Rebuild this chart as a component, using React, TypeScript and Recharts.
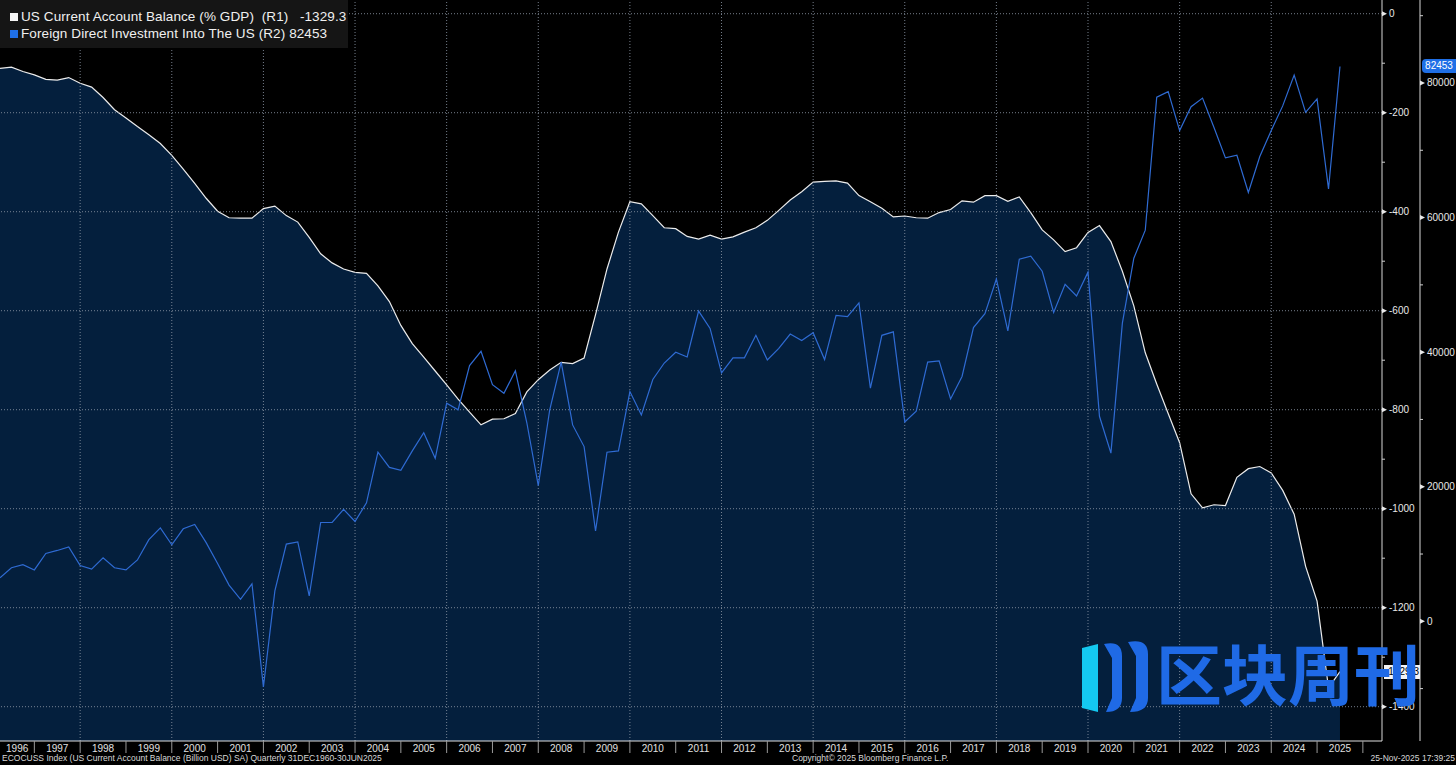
import React from "react";
import { ComposedChart, Area, Line, XAxis, YAxis, ReferenceLine } from "recharts";

// quarterly, 1996Q1 .. 2025Q2
const years = [
  1996, 1997, 1998, 1999, 2000, 2001, 2002, 2003, 2004, 2005,
  2006, 2007, 2008, 2009, 2010, 2011, 2012, 2013, 2014, 2015,
  2016, 2017, 2018, 2019, 2020, 2021, 2022, 2023, 2024, 2025,
];

// R1: US current account balance (billion USD)
const currentAccount = [
  -110.5, -107.9, -116.7, -123.7, -132.5, -134.2, -129.0, -140.4, -148.3, -169.3,
  -193.9, -210.5, -228.0, -244.7, -262.3, -286.0, -314.0, -343.0, -372.8, -399.0,
  -412.2, -413.0, -413.0, -393.8, -388.6, -407.9, -421.0, -451.7, -485.0, -503.4,
  -515.7, -522.7, -524.5, -550.0, -581.5, -629.7, -666.6, -693.8, -721.8, -749.9,
  -778.8, -805.1, -830.6, -819.2, -818.3, -807.8, -764.0, -739.4, -720.0, -704.3,
  -706.9, -695.5, -607.8, -515.7, -441.2, -379.8, -384.2, -407.9, -432.4, -434.2,
  -450.0, -455.2, -447.3, -455.2, -450.8, -441.2, -432.4, -417.5, -397.3, -376.3,
  -359.6, -340.3, -338.6, -337.7, -342.1, -367.5, -379.8, -393.0, -410.5, -408.7,
  -412.2, -413.1, -401.7, -395.6, -378.0, -380.7, -367.5, -367.5, -378.9, -370.1,
  -401.7, -436.8, -457.0, -480.6, -472.7, -442.0, -428.0, -460.5, -520.2, -590.3,
  -685.0, -748.2, -807.8, -866.6, -970.0, -998.1, -992.0, -993.7, -936.7, -919.1,
  -914.8, -927.9, -963.0, -1011.2, -1116.5, -1186.6, -1362.0, -1329.3,
];

// R2: foreign direct investment into the US
const fdiIntoUs = [
  6478, 7958, 8409, 7637, 10081, 10531, 11046, 8280, 7765, 9437,
  7958, 7637, 9116, 12140, 13877, 11368, 13748, 14391, 11689, 8602,
  5385, 3262, 5578, -9745, 4523, 11471, 11793, 3763, 14687, 14687,
  16643, 14841, 17607, 25133, 22881, 22431, 25326, 28028, 24233, 32402,
  31437, 38000, 40122, 35169, 33882, 37227, 29508, 20180, 31437, 38514,
  29186, 25970, 13426, 25133, 25326, 34139, 30665, 35940, 38385, 39993,
  39285, 46104, 43531, 36905, 39157, 39157, 42502, 38835, 40572, 42695,
  41730, 42888, 38900, 45461, 45268, 47327, 34654, 42502, 43017, 29636,
  31244, 38514, 38707, 33046, 36391, 43660, 45719, 50865, 43145, 53824,
  54274, 52022, 45911, 50093, 48356, 51894, 30472, 24997, 44304, 53953,
  58134, 77883, 78719, 72929, 76468, 77754, 73379, 68876, 69262, 63730,
  69069, 72929, 76597, 81164, 75632, 77626, 64244, 82453,
];

const r1Ticks = [0, -100, -200, -300, -400, -500, -600, -700, -800, -900, -1000, -1100, -1200, -1300, -1400];
const r2Ticks = [90000, 80000, 70000, 60000, 50000, 40000, 30000, 20000, 10000, 0, -10000];

const quarters = years.flatMap((y) => [1, 2, 3, 4].map((q) => `${y}Q${q}`)).slice(0, currentAccount.length);
const data = currentAccount.map((ca, i) => ({ t: i, quarter: quarters[i], ca, fdi: fdiIntoUs[i] }));

const W = 1456;
const H = 765;
const PLOT_W = 1382;
const PLOT_H = 741;
const X_MAX = 120.67;
const R1_DOMAIN = [-1469.3, 27.7];
const R2_DOMAIN = [-17786, 92333];
const QPX = PLOT_W / X_MAX;

const FONT = "'Liberation Sans', Arial, sans-serif";
const GRID = "#8a94a3";

const yearMid = years.map((y) => 4 * (y - 1996) + 1);
const gridYears = years.filter((y) => y % 2 === 0 && y > 1996).map((y) => 4 * (y - 1996) - 1);

const YearTick = (props: any) => {
  const { x, y, payload } = props;
  const right = x + 2 * QPX;
  const left = Math.max(0, x - 2 * QPX);
  const cx = (left + right) / 2;
  const year = 1996 + (payload.value - 1) / 4;
  return (
    <g>
      <text x={cx} y={y + 11} fill="#e0e0e0" fontSize={10} fontFamily={FONT} textAnchor="middle">
        {year}
      </text>
      <line x1={right} x2={right} y1={y} y2={y + 12} stroke="#9a9a9a" strokeWidth={1} />
    </g>
  );
};

const RightTick = (props: any) => {
  const { x, y, payload, step } = props;
  const v = payload.value;
  const major = v % step === 0 && (step === 200 || v >= 0);
  if (!major) {
    return <line x1={x} x2={x + 3} y1={y} y2={y} stroke="#cfcfcf" strokeWidth={1} />;
  }
  return (
    <g>
      <path d={`M${x},${y - 2.5} L${x + 5},${y} L${x},${y + 2.5} Z`} fill="#e8e8e8" />
      <text x={x + 7} y={y + 3.5} fill="#e8e8e8" fontSize={10} fontFamily={FONT}>
        {v}
      </text>
    </g>
  );
};

const r1y = (v: number) => ((R1_DOMAIN[1] - v) / (R1_DOMAIN[1] - R1_DOMAIN[0])) * PLOT_H;
const r2y = (v: number) => ((R2_DOMAIN[1] - v) / (R2_DOMAIN[1] - R2_DOMAIN[0])) * PLOT_H;

export default function App() {
  const lastCa = currentAccount[currentAccount.length - 1];
  const lastFdi = fdiIntoUs[fdiIntoUs.length - 1];
  return (
    <div style={{ position: "absolute", left: 0, top: 0, width: W, height: H, background: "#000", overflow: "hidden" }}>
      <ComposedChart width={W} height={H} data={data} margin={{ top: 0, right: 0, left: 0, bottom: 0 }}>
        <XAxis
          dataKey="t"
          type="number"
          domain={[0, X_MAX]}
          allowDataOverflow
          ticks={yearMid}
          interval={0}
          height={24}
          tickSize={0}
          tickMargin={0}
          tick={<YearTick />}
          axisLine={{ stroke: "#e0e0e0" }}
        />
        <YAxis
          yAxisId="r1"
          orientation="right"
          type="number"
          domain={R1_DOMAIN}
          allowDataOverflow
          ticks={r1Ticks}
          interval={0}
          width={38}
          tickSize={0}
          tickMargin={0}
          tick={<RightTick step={200} />}
          axisLine={{ stroke: "#d8d8d8" }}
        />
        <YAxis
          yAxisId="r2"
          orientation="right"
          type="number"
          domain={R2_DOMAIN}
          allowDataOverflow
          ticks={r2Ticks}
          interval={0}
          width={36}
          tickSize={0}
          tickMargin={0}
          tick={<RightTick step={20000} />}
          axisLine={{ stroke: "#d8d8d8" }}
        />
        <Area
          yAxisId="r1"
          dataKey="ca"
          type="linear"
          baseValue="dataMin"
          stroke="#ececec"
          strokeWidth={1.2}
          fill="#041f3d"
          fillOpacity={1}
          isAnimationActive={false}
          dot={false}
          activeDot={false}
        />
        {r1Ticks
          .filter((v) => v % 200 === 0)
          .map((v) => (
            <ReferenceLine key={`h${v}`} yAxisId="r1" y={v} stroke={GRID} strokeDasharray="1 2" strokeOpacity={0.85} />
          ))}
        {gridYears.map((t) => (
          <ReferenceLine key={`v${t}`} yAxisId="r1" x={t} stroke={GRID} strokeDasharray="1 2" strokeOpacity={0.85} />
        ))}
        <Line
          yAxisId="r2"
          dataKey="fdi"
          type="linear"
          stroke="#2f6bd3"
          strokeWidth={1.2}
          dot={false}
          activeDot={false}
          isAnimationActive={false}
        />
      </ComposedChart>

      {/* legend */}
      <div
        style={{
          position: "absolute", left: 0, top: 0, width: 348, height: 48, background: "#151515",
          fontFamily: FONT, fontSize: 13.5, letterSpacing: 0.1, color: "#f0f0f0", whiteSpace: "pre",
        }}
      >
        <div style={{ position: "absolute", left: 10, top: 13, width: 8, height: 8, background: "#f4f4f4" }} />
        <div style={{ position: "absolute", left: 21, top: 9, lineHeight: "16px" }}>
          {`US Current Account Balance (% GDP)  (R1)   ${lastCa}`}
        </div>
        <div style={{ position: "absolute", left: 10, top: 30, width: 8, height: 8, background: "#1f6fe6" }} />
        <div style={{ position: "absolute", left: 21, top: 26, lineHeight: "16px" }}>
          {`Foreign Direct Investment Into The US (R2) ${lastFdi}`}
        </div>
      </div>

      {/* last value badges */}
      <div
        style={{
          position: "absolute", left: 1422, top: r2y(lastFdi) - 7, width: 34, height: 14, background: "#1f6fe6",
          borderRadius: "4px 0 0 4px", color: "#fff", fontFamily: FONT, fontSize: 10, lineHeight: "14px", textAlign: "center",
        }}
      >
        {lastFdi}
      </div>
      <div
        style={{
          position: "absolute", left: 1384, top: r1y(lastCa) - 7, width: 36, height: 14, background: "#f4f4f4",
          color: "#000", fontFamily: FONT, fontSize: 10, lineHeight: "14px", textAlign: "center",
        }}
      >
        {lastCa}
      </div>

      {/* watermark */}
      <svg style={{ position: "absolute", left: 1078, top: 636 }} width={80} height={80}>
        <path d="M4,12 L20,8 L20,76 L4,72 Z" fill="#14c8f0" />
        <path d="M26,8 Q44,4 44,20 L44,62 Q44,76 28,76 L34,62 L34,22 Z" fill="#1f6ae6" />
        <path d="M50,6 Q70,2 70,18 L70,62 Q70,76 52,76 L58,62 L58,20 Z" fill="#1f6ae6" />
      </svg>
      <div
        style={{
          position: "absolute", left: 1156, top: 626, fontFamily: "'Noto Sans CJK SC', sans-serif", fontWeight: 700,
          fontSize: 66, color: "#1f6ae6", lineHeight: "90px", whiteSpace: "nowrap",
        }}
      >
        区块周刊
      </div>

      {/* footer */}
      <div style={{ position: "absolute", left: 2, top: 753, fontFamily: FONT, fontSize: 8.5, color: "#d8d8d8", whiteSpace: "nowrap" }}>
        ECOCUSS Index (US Current Account Balance (Billion USD) SA) Quarterly 31DEC1960-30JUN2025
      </div>
      <div style={{ position: "absolute", left: 792, top: 753, fontFamily: FONT, fontSize: 8.5, color: "#d8d8d8", whiteSpace: "nowrap" }}>
        Copyright© 2025 Bloomberg Finance L.P.
      </div>
      <div style={{ position: "absolute", right: 1, top: 753, fontFamily: FONT, fontSize: 8.5, color: "#d8d8d8", whiteSpace: "nowrap" }}>
        25-Nov-2025 17:39:25
      </div>
    </div>
  );
}
